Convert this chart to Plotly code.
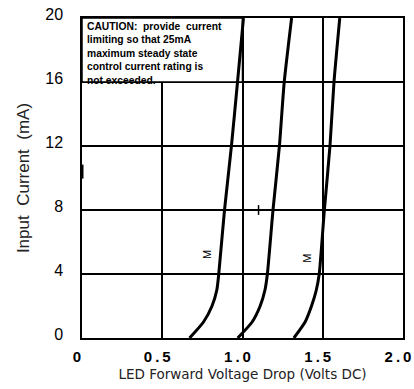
import plotly.graph_objects as go

current_ma = [0, 1, 2, 3, 4, 8, 12, 16, 20]
curve_a_v = [0.67, 0.757, 0.81, 0.84, 0.852, 0.888, 0.931, 0.969, 1.006]
curve_b_v = [0.97, 1.06, 1.11, 1.14, 1.155, 1.19, 1.23, 1.26, 1.306]
curve_c_v = [1.32, 1.39, 1.43, 1.46, 1.478, 1.51, 1.545, 1.57, 1.606]

T = "\u2009"
x_tick_vals = [0, 0.5, 1.0, 1.5, 2.0]
x_tick_text = ["0", f"0{T}.{T}5", f"1{T}.{T}0", f"1{T}.{T}5", f"2{T}.{T}0"]
y_tick_vals = [0, 4, 8, 12, 16, 20]
y_tick_text = ["0", "4", "8", "12", "16", "20"]

caution = ("CAUTION:  provide  current<br>limiting so that 25mA<br>"
           "maximum steady state<br>control current rating is<br>not exceeded.")

fig = go.Figure()
for xs in (curve_a_v, curve_b_v, curve_c_v):
    fig.add_trace(go.Scatter(x=xs, y=current_ma, mode="lines",
                             line=dict(color="black", width=3, shape="spline", smoothing=0.6),
                             hoverinfo="skip", showlegend=False, cliponaxis=True))

# small stray tick marks seen in the original scan
fig.add_trace(go.Scatter(x=[1.1], y=[8], mode="markers",
                         marker=dict(symbol="line-ns", size=7, line=dict(color="black", width=1.5)),
                         showlegend=False, hoverinfo="skip", cliponaxis=False))
fig.add_trace(go.Scatter(x=[0], y=[10.4], mode="markers",
                         marker=dict(symbol="line-ns", size=10, line=dict(color="black", width=3)),
                         showlegend=False, hoverinfo="skip", cliponaxis=False))

fig.add_shape(type="rect", x0=0, x1=1.0, y0=16, y1=20, xref="x", yref="y",
              fillcolor="white", line=dict(color="black", width=1.5), layer="between")

fig.add_annotation(x=0, y=20, xref="x", yref="y", xanchor="left", yanchor="top",
                   xshift=3, yshift=-1, text=caution, showarrow=False, align="left",
                   font=dict(family="Liberation Sans, Arial", size=10.3, color="black", weight="bold"))

for mx, my in ((0.78, 5.2), (1.40, 5.0)):
    fig.add_annotation(x=mx, y=my, xref="x", yref="y", text="M", showarrow=False,
                       textangle=-90, font=dict(family="Liberation Sans, Arial", size=11, color="black"))

fig.update_xaxes(range=[0, 2.0], tickvals=x_tick_vals, ticktext=x_tick_text,
                 showgrid=True, gridcolor="black", gridwidth=1.5,
                 showline=True, linecolor="black", linewidth=1.5, mirror=True,
                 zeroline=False, ticks="", automargin=False, ticklabeloverflow="allow",
                 ticklabelstandoff=4, ticklabelshift=-5,
                 tickfont=dict(family="Liberation Sans, Arial", size=15, color="black", weight="bold"),
                 title=dict(text="LED Forward Voltage Drop (Volts DC)", standoff=6,
                            font=dict(family="DejaVu Sans", size=13.5, color="#222")))
fig.update_yaxes(range=[0, 20], tickvals=y_tick_vals, ticktext=y_tick_text,
                 showgrid=True, gridcolor="black", gridwidth=1.5,
                 showline=True, linecolor="black", linewidth=1.5, mirror=True,
                 zeroline=False, ticks="", ticklabelstandoff=14, ticklabelshift=-4,
                 automargin=False, ticklabeloverflow="allow",
                 tickfont=dict(family="Liberation Sans, Arial", size=16, color="black"),
                 title=dict(text="Input\u00a0\u00a0Current\u00a0\u00a0(mA)", standoff=11,
                            font=dict(family="Liberation Sans, Arial", size=17, color="#222")))

fig.update_layout(width=414, height=389, margin=dict(l=82, r=11, t=18, b=51),
                  paper_bgcolor="white", plot_bgcolor="white")

fig.write_html("out.html", config={"displayModeBar": False},
               post_script="document.body.style.margin='0px';document.body.style.overflow='hidden';")
